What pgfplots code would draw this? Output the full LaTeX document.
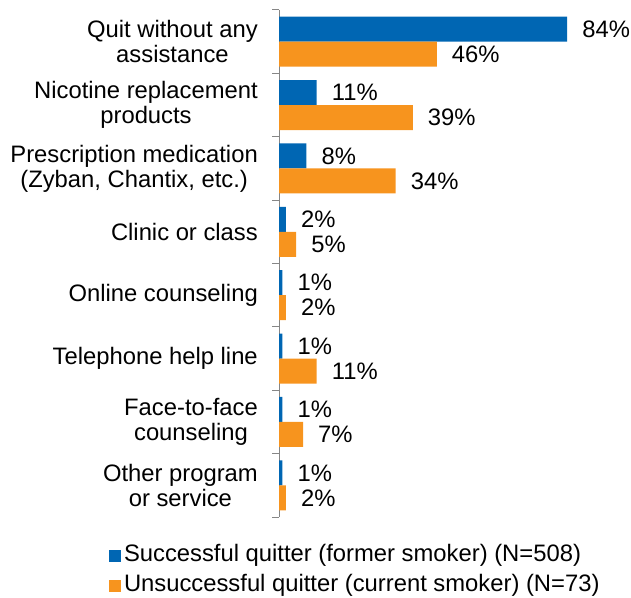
\documentclass[border=0pt]{standalone}
\usepackage{pgfplots}
\pgfplotsset{compat=1.18}
\usepackage{fontspec}
\setmainfont{Liberation Sans}
\definecolor{qblue}{HTML}{0066B3}
\definecolor{qorange}{HTML}{F7941E}
\definecolor{axgray}{HTML}{868686}
\begin{document}
\begin{tikzpicture}[x=1bp,y=1bp]
\useasboundingbox (0,0) rectangle (631,598);
\begin{axis}[
    at={(279bp,81bp)}, anchor=south west,
    scale only axis, width=343bp, height=507bp,
    xbar=0pt, bar width=25bp,
    xmin=0, xmax=100, ymin=-0.5, ymax=7.5, y dir=reverse,
    hide x axis, axis y line*=left,
    axis line style={axgray, line width=1bp},
    clip=false,
    /pgf/number format/assume math mode=true,
    ytick={0,...,7},
    yticklabels={{Quit without any\\assistance},{Nicotine replacement\\products},{Prescription medication\\(Zyban, Chantix, etc.)},{Clinic or class},{Online counseling},{Telephone help line},{Face-to-face\\counseling},{Other program\\or service}},
    minor ytick={-0.5,0.5,...,7.5},
    tick align=outside, major tick length=0pt, minor tick length=7bp,
    minor tick style={axgray, line width=1bp},
    yticklabel style={align=center, anchor=east, inner sep=0pt, xshift=-21bp,
        font=\fontsize{23.8bp}{25bp}\selectfont},
    nodes near coords={\pgfmathprintnumber{\pgfplotspointmeta}\%},
    every node near coord/.append style={anchor=west, inner sep=0pt, xshift=15bp,
        font=\fontsize{23.8bp}{25bp}\selectfont, black},
    legend style={at={(-0.4956,-0.0552)}, anchor=north west, draw=none, fill=none,
        inner sep=0pt, outer sep=0pt, row sep=8bp,
        font=\fontsize{23.8bp}{25bp}\selectfont,
        nodes={inner xsep=3bp, inner ysep=0pt, text height=17bp, text depth=5bp}},
    legend cell align=left,
    legend image code/.code={\fill[#1] (0bp,-6bp) rectangle (12bp,6bp);},
]
\addplot[fill=qblue, draw=none, bar shift=12.5bp] coordinates {(84,0) (11,1) (8,2) (2,3) (1,4) (1,5) (1,6) (1,7)};
\addplot[fill=qorange, draw=none, bar shift=-12.5bp] coordinates {(46,0) (39,1) (34,2) (5,3) (2,4) (11,5) (7,6) (2,7)};
\legend{Successful quitter (former smoker) (N=508), Unsuccessful quitter (current smoker) (N=73)}
\end{axis}
\end{tikzpicture}
\end{document}
